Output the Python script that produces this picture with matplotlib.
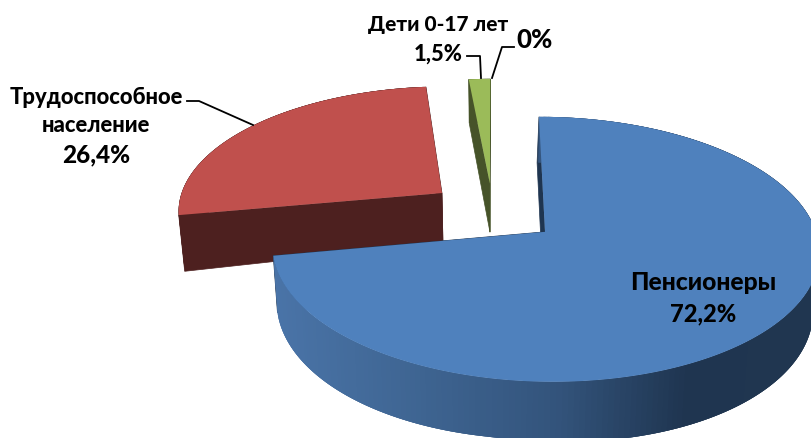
import numpy as np
import matplotlib
matplotlib.use("Agg")
import matplotlib.pyplot as plt

plt.rcParams['font.family'] = ['Lato', 'Open Sans', 'DejaVu Sans']

# Data
labels = ['Пенсионеры', 'Трудоспособное\nнаселение', 'Дети 0-17 лет', '']
values = [72.2, 26.4, 1.5, 0.0]
value_labels = ['72,2%', '26,4%', '1,5%', '0%']

# Slice styles
top_colors = ['#4f81bd', '#c0504d', '#9bbb59']
side_colors = ['#1f3550', '#4d201f', '#465329']
# explosion of each slice on the plate: sideways and away from the viewer
explode_x = [0.192, -0.196, -0.012]
depth_of_apex = [7.58, 7.89, 7.97]

# Perspective camera, fitted to the picture
VX, YH = 493.0, -754.0
F, FH, FT = 2054.0, 7480.0, 387.0


def project(x, d, bottom=False):
    sx = VX + F * x / d
    sy = YH + FH / d
    if bottom:
        off = np.abs(sx - VX)
        sy = sy + FT / d * (1 + 0.00038 * off)
        sx = sx - 0.019 * (sx - VX)
    return sx, sy


def side_color(sx):
    # blue rim gets lighter to the left and darker to the right
    return np.array([np.interp(sx, [272, 400, 560, 690, 812], c) for c in
                     ([0x4a, 0x40, 0x33, 0x1f, 0x20],
                      [0x74, 0x67, 0x54, 0x35, 0x36],
                      [0xa8, 0x95, 0x7c, 0x50, 0x50])]) / 255


fig = plt.figure(figsize=(8.12, 4.39), dpi=100)
ax = fig.add_axes([0, 0, 1, 1])
ax.set_xlim(0, 812)
ax.set_ylim(439, 0)
ax.axis('off')

# angles run clockwise from twelve o'clock
shares = np.array(values) / sum(values) * 2 * np.pi
ends = np.cumsum(shares)
starts = ends - shares

for i in [1, 2, 0]:
    th = np.linspace(starts[i], ends[i], 240)
    x = explode_x[i] + np.sin(th)
    d = depth_of_apex[i] + np.cos(th)

    tx, ty = project(x, d)
    bx, by = project(x, d, bottom=True)
    apex_x, apex_y = project(explode_x[i], depth_of_apex[i])
    apex_bx, apex_by = project(explode_x[i], depth_of_apex[i], bottom=True)

    # flat walls along both cuts
    for k in [0, -1]:
        shift = -1.0 if i == 0 and k == 0 else 0
        ax.fill([apex_x, tx[k], bx[k] + shift, apex_bx + shift],
                [apex_y, ty[k], by[k], apex_by],
                color=side_colors[i], lw=0.5)

    # rim, each piece overlaps the next so no seams show
    step = 3
    for j in range(0, len(th) - step, 1):
        c = side_color(tx[j]) if i == 0 else side_colors[i]
        ax.fill([tx[j], tx[j + step], bx[j + step], bx[j]],
                [ty[j], ty[j + step], by[j + step], by[j]],
                color=c, lw=0)

    ax.fill(np.r_[apex_x, tx], np.r_[apex_y, ty], color=top_colors[i], lw=0)

# Leader lines
ax.plot([187, 199, 253], [102, 102, 126], color='black', lw=1.3)
ax.plot([467, 480, 481], [57, 57, 79], color='black', lw=1.3)
ax.plot([514, 502, 492], [48, 48, 79], color='black', lw=1.3)

# Data labels
font = dict(fontweight='black', ha='center', va='center', color='black')
ax.text(703, 283, labels[0], fontsize=17.8, **font)
ax.text(703, 314, value_labels[0], fontsize=17, **font)
ax.text(96, 111.5, labels[1], linespacing=1.37, fontsize=15.8, **font)
ax.text(96, 155, value_labels[1], fontsize=17.5, **font)
ax.text(438, 24, labels[2], fontsize=15, **font)
ax.text(438, 54, value_labels[2], fontsize=15.8, **font)
ax.text(534.5, 40, value_labels[3], fontsize=18.5, **font)

fig.savefig('out.png', dpi=100)
